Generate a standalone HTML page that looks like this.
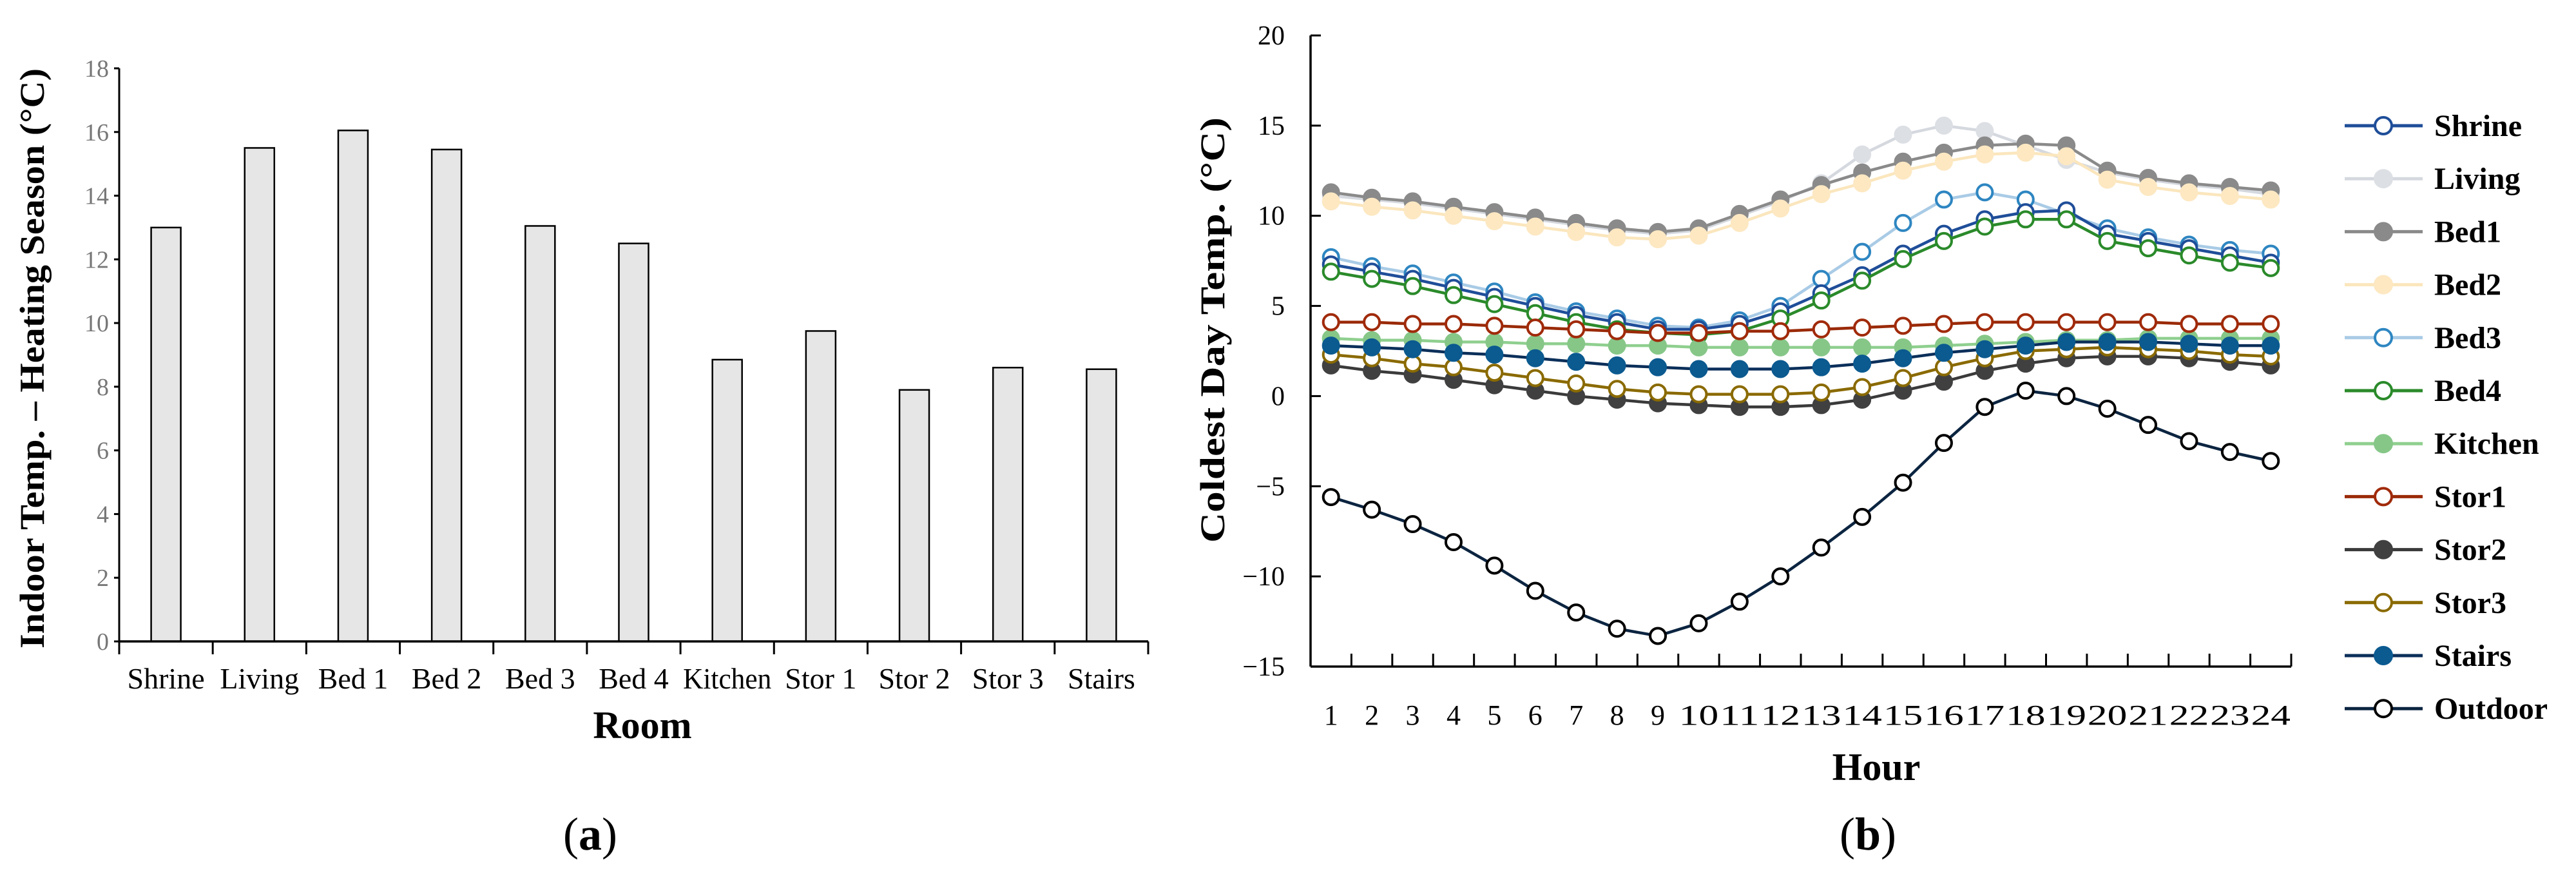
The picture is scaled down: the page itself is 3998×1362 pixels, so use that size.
<!DOCTYPE html>
<html><head><meta charset="utf-8">
<style>
html,body{margin:0;padding:0;background:#fff;}
svg{display:block;}
text{font-family:"Liberation Serif",serif;}
</style></head>
<body>
<svg id="root" width="3998" height="1362" viewBox="0 0 3998 1362" xmlns="http://www.w3.org/2000/svg">
<g id="chartA"></g>
<g id="chartB"></g>
<text x="916" y="1318" font-size="72" text-anchor="middle">(<tspan font-weight="bold">a</tspan>)</text>
<text x="2899" y="1318" font-size="72" text-anchor="middle">(<tspan font-weight="bold">b</tspan>)</text>
</svg>
<script>
const NS="http://www.w3.org/2000/svg";
// ---- Chart A data ----
const rooms=["Shrine","Living","Bed 1","Bed 2","Bed 3","Bed 4","Kitchen","Stor 1","Stor 2","Stor 3","Stairs"];
const roomTemps=[13.0,15.5,16.05,15.45,13.05,12.5,8.85,9.75,7.9,8.6,8.55];
const yTicksA=[0,2,4,6,8,10,12,14,16,18];
// ---- Chart B data ----
const hours=[1,2,3,4,5,6,7,8,9,10,11,12,13,14,15,16,17,18,19,20,21,22,23,24];
const yTicksB=[20,15,10,5,0,-5,-10,-15];
const seriesNames=["Shrine","Living","Bed1","Bed2","Bed3","Bed4","Kitchen","Stor1","Stor2","Stor3","Stairs","Outdoor"];
const shrine=[7.3,6.9,6.5,6.0,5.5,5.0,4.5,4.1,3.7,3.7,4.0,4.7,5.7,6.7,7.9,9.0,9.8,10.2,10.3,9.0,8.6,8.2,7.8,7.4];
const living=[11.1,10.9,10.7,10.4,10.1,9.8,9.5,9.2,9.0,9.2,10.0,10.8,11.8,13.4,14.5,15.0,14.7,13.9,13.1,12.4,12.0,11.7,11.5,11.2];
const bed1=[11.3,11.0,10.8,10.5,10.2,9.9,9.6,9.3,9.1,9.3,10.1,10.9,11.7,12.4,13.0,13.5,13.9,14.0,13.9,12.5,12.1,11.8,11.6,11.4];
const bed2=[10.8,10.5,10.3,10.0,9.7,9.4,9.1,8.8,8.7,8.9,9.6,10.4,11.2,11.8,12.5,13.0,13.4,13.5,13.3,12.0,11.6,11.3,11.1,10.9];
const bed3=[7.7,7.2,6.8,6.3,5.8,5.2,4.7,4.3,3.9,3.8,4.2,5.0,6.5,8.0,9.6,10.9,11.3,10.9,10.1,9.3,8.8,8.4,8.1,7.9];
const bed4=[6.9,6.5,6.1,5.6,5.1,4.6,4.1,3.7,3.5,3.4,3.6,4.3,5.3,6.4,7.6,8.6,9.4,9.8,9.8,8.6,8.2,7.8,7.4,7.1];
const kitchen=[3.2,3.1,3.1,3.0,3.0,2.9,2.9,2.8,2.8,2.7,2.7,2.7,2.7,2.7,2.7,2.8,2.9,3.0,3.1,3.1,3.2,3.2,3.2,3.2];
const stor1=[4.1,4.1,4.0,4.0,3.9,3.8,3.7,3.6,3.5,3.5,3.6,3.6,3.7,3.8,3.9,4.0,4.1,4.1,4.1,4.1,4.1,4.0,4.0,4.0];
const stor2=[1.7,1.4,1.2,0.9,0.6,0.3,0.0,-0.2,-0.4,-0.5,-0.6,-0.6,-0.5,-0.2,0.3,0.8,1.4,1.8,2.1,2.2,2.2,2.1,1.9,1.7];
const stor3=[2.3,2.1,1.8,1.6,1.3,1.0,0.7,0.4,0.2,0.1,0.1,0.1,0.2,0.5,1.0,1.6,2.1,2.5,2.6,2.7,2.6,2.5,2.3,2.2];
const stairs=[2.8,2.7,2.6,2.4,2.3,2.1,1.9,1.7,1.6,1.5,1.5,1.5,1.6,1.8,2.1,2.4,2.6,2.8,3.0,3.0,3.0,2.9,2.8,2.8];
const outdoor=[-5.6,-6.3,-7.1,-8.1,-9.4,-10.8,-12.0,-12.9,-13.3,-12.6,-11.4,-10.0,-8.4,-6.7,-4.8,-2.6,-0.6,0.3,0.0,-0.7,-1.6,-2.5,-3.1,-3.6];

function el(tag,attrs,parent,txt){const e=document.createElementNS(NS,tag);for(const k in attrs)e.setAttribute(k,attrs[k]);if(txt!==undefined)e.textContent=txt;parent.appendChild(e);return e;}

// ===== Chart A =====
(function(){
const g=document.getElementById('chartA');
const x0=185,x1=1782,yb=995,yt=106,vmax=18;
const y=v=>yb-(v/vmax)*(yb-yt);
const bw=(x1-x0)/rooms.length;
yTicksA.forEach(t=>{
 const tk=el('line',{x1:x0-8,x2:x0,y1:y(t),y2:y(t),stroke:'#000','stroke-width':3},g);
 
 const lb=el('text',{x:x0-16,y:y(t)+13,'font-size':38,fill:'#777','text-anchor':'end','font-family':'Liberation Sans Narrow, Liberation Sans, sans-serif'},g,t);
 
});
rooms.forEach((r,i)=>{
 const cx=x0+bw*(i+0.5);
 const b=el('rect',{x:cx-23,y:y(roomTemps[i]),width:46,height:yb-y(roomTemps[i]),fill:'#e6e6e6',stroke:'#000','stroke-width':2.5},g);
 
 const lb=el('text',{x:cx,y:1068,'font-size':46,'text-anchor':'middle'},g,r);
 if(r.length>=7){lb.setAttribute('textLength',bw-8);lb.setAttribute('lengthAdjust','spacingAndGlyphs');}
 
});
for(let i=0;i<=rooms.length;i++){
 const tk=el('line',{x1:x0+bw*i,x2:x0+bw*i,y1:yb,y2:yb+20,stroke:'#000','stroke-width':3},g);
 
}
const ya=el('line',{x1:x0,x2:x0,y1:yt,y2:yb,stroke:'#000','stroke-width':3},g);

const xa=el('line',{x1:x0,x2:x1,y1:yb,y2:yb,stroke:'#000','stroke-width':3.5},g);

const xt=el('text',{x:997,y:1145,'font-size':60,'font-weight':'bold','text-anchor':'middle'},g,'Room');

const yti=el('text',{x:0,y:0,'font-size':54,'font-weight':'bold','text-anchor':'middle',textLength:900,lengthAdjust:'spacingAndGlyphs',transform:'translate(68,556) rotate(-90)'},g,'Indoor Temp. \u2013 Heating Season (\u00B0C)');

})();

// ===== Chart B =====
(function(){
const g=document.getElementById('chartB');
const x0=2034,x1=3556,yt=55,yb=1034,vmin=-15,vmax=20;
const y=v=>yt+(vmax-v)/(vmax-vmin)*(yb-yt);
const bw=(x1-x0)/hours.length;
const x=i=>x0+bw*(i+0.5);
yTicksB.forEach(t=>{
 const tk=el('line',{x1:x0,x2:x0+16,y1:y(t),y2:y(t),stroke:'#000','stroke-width':3},g);
 
 const lb=el('text',{x:x0-40,y:y(t)+14,'font-size':42,'text-anchor':'end'},g,String(t).replace('-','\u2212'));
 
});
hours.forEach((h,i)=>{
 const tk=el('line',{x1:x0+bw*(i+1),x2:x0+bw*(i+1),y1:yb,y2:yb-20,stroke:'#000','stroke-width':3},g);
 
 const lb=el('text',{x:x(i),y:1124,'font-size':44,'text-anchor':'middle'},g,h);
 if(h>=10){lb.setAttribute('textLength',bw-2);lb.setAttribute('lengthAdjust','spacingAndGlyphs');}
 
});
const ya=el('line',{x1:x0,x2:x0,y1:yt,y2:yb,stroke:'#000','stroke-width':3.5},g);

const xa=el('line',{x1:x0,x2:x1,y1:yb,y2:yb,stroke:'#000','stroke-width':3.5},g);

const xt=el('text',{x:2912,y:1210,'font-size':60,'font-weight':'bold','text-anchor':'middle'},g,'Hour');

const yti=el('text',{x:0,y:0,'font-size':54,'font-weight':'bold','text-anchor':'middle',textLength:660,lengthAdjust:'spacingAndGlyphs',transform:'translate(1900,512) rotate(-90)'},g,'Coldest Day Temp. (\u00B0C)');


const data=[shrine,living,bed1,bed2,bed3,bed4,kitchen,stor1,stor2,stor3,stairs,outdoor];
const line=['#1f4e99','#d5d9df','#8a8a8a','#fbe6bd','#a9cbe6','#2a8a2a','#8fcf8f','#9a2a08','#3a3a3a','#8a6a00','#0b2f5a','#0b2440'];
const mstroke=['#1f4e99','#dcdfe4','#8a8a8a','#fde8c2','#2e86c1','#2a8a2a','#86c788','#a02a0a','#404040','#8a6a00','#0b5a90','#000'];
const mfill=['#fff','#dcdfe4','#8a8a8a','#fde8c2','#fff','#fff','#86c788','#fff','#404040','#fff','#0b5a90','#fff'];
const order=[1,2,3,4,0,5,6,7,8,9,10,11];
order.forEach(s=>{
 const sg=el('g',{},g);
 
 const pts=data[s].map((v,i)=>x(i)+','+y(v)).join(' ');
 const pl=el('polyline',{points:pts,fill:'none',stroke:line[s],'stroke-width':4.5},sg);
 
 data[s].forEach((v,i)=>{
  const c=el('circle',{cx:x(i),cy:y(v),r:12,fill:mfill[s],stroke:mstroke[s],'stroke-width':4},sg);
  
 });
});
// legend
const lg=el('g',{},g);

seriesNames.forEach((n,s)=>{
 const ly=195+s*82.2;
 const eg=el('g',{},lg);
 
 el('line',{x1:3639,x2:3760,y1:ly,y2:ly,stroke:line[s],'stroke-width':5},eg);
 el('circle',{cx:3699,cy:ly,r:13,fill:mfill[s],stroke:mstroke[s],'stroke-width':4},eg);
 el('text',{x:3778,y:ly+16,'font-size':48,'font-weight':'bold'},eg,n);
});
})();
</script>
</body></html>
